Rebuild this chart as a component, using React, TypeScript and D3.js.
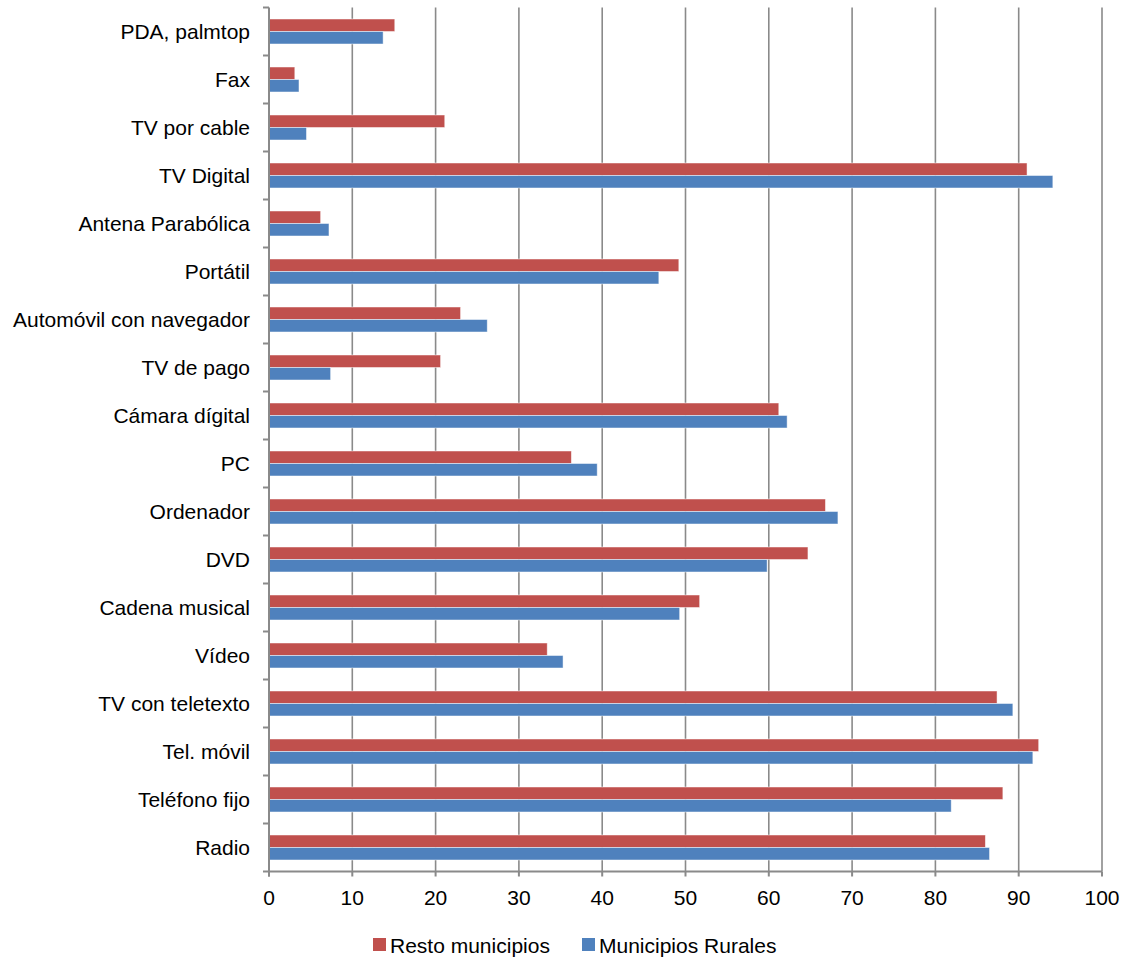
import React, { useEffect } from "react";
import * as d3 from "d3";

// categories listed top to bottom
const categories = [
  "PDA, palmtop",
  "Fax",
  "TV por cable",
  "TV Digital",
  "Antena Parabólica",
  "Portátil",
  "Automóvil con navegador",
  "TV de pago",
  "Cámara dígital",
  "PC",
  "Ordenador",
  "DVD",
  "Cadena musical",
  "Vídeo",
  "TV con teletexto",
  "Tel. móvil",
  "Teléfono fijo",
  "Radio",
];

const resto = [15.1, 3.1, 21.1, 91.0, 6.2, 49.2, 23.0, 20.6, 61.2, 36.3, 66.8, 64.7, 51.7, 33.4, 87.4, 92.4, 88.1, 86.0];
const rurales = [13.7, 3.6, 4.5, 94.1, 7.2, 46.8, 26.2, 7.4, 62.2, 39.4, 68.3, 59.8, 49.3, 35.3, 89.3, 91.7, 81.9, 86.5];

const seriesNames = ["Resto municipios", "Municipios Rurales"];
const seriesColors = ["#C0504D", "#4F81BD"];
const xTicks = [0, 10, 20, 30, 40, 50, 60, 70, 80, 90, 100];

const W = 1133;
const H = 958;
const margin = { top: 7.5, right: 31, bottom: 86.5, left: 269 };
const font = "'Liberation Sans', Arial, sans-serif";
const fs = 21;

export default function App() {
  useEffect(() => {
    document.body.style.margin = "0";
  }, []);

  const x = d3.scaleLinear().domain([0, 100]).range([margin.left, W - margin.right]);
  const y = d3
    .scaleBand<string>()
    .domain(categories)
    .range([margin.top, H - margin.bottom])
    .paddingInner(0)
    .paddingOuter(0);
  const inner = d3
    .scaleBand<number>()
    .domain([0, 1])
    .range([0, y.bandwidth()])
    .paddingOuter(0.92)
    .paddingInner(0);

  const series = [resto, rurales];
  const y0 = margin.top;
  const y1 = H - margin.bottom;
  const gridColor = "#8a8a8a";

  return (
    <svg width={W} height={H} style={{ display: "block", fontFamily: font }}>
      {/* vertical gridlines */}
      {xTicks.slice(1).map((t) => (
        <line key={"g" + t} x1={x(t)} x2={x(t)} y1={y0} y2={y1} stroke={gridColor} strokeWidth={1.6} />
      ))}

      {/* bars */}
      {categories.map((c, i) => (
        <g key={c} transform={`translate(0,${y(c)})`}>
          {series.map((s, k) => (
            <rect
              key={k}
              x={x(0)}
              y={inner(k)}
              width={x(s[i]) - x(0)}
              height={inner.bandwidth()}
              fill={seriesColors[k]}
              stroke="#ffffff"
              strokeOpacity={0.6}
              strokeWidth={0.8}
            />
          ))}
        </g>
      ))}

      {/* y axis */}
      <line x1={x(0)} x2={x(0)} y1={y0} y2={y1 + 5} stroke={gridColor} strokeWidth={2} />
      {categories.map((c) => (
        <line key={"yt" + c} x1={x(0) - 6} x2={x(0)} y1={y(c)} y2={y(c)} stroke={gridColor} strokeWidth={2} />
      ))}
      <line x1={x(0) - 6} x2={x(0)} y1={y1} y2={y1} stroke={gridColor} strokeWidth={2} />
      {categories.map((c) => (
        <text
          key={"yl" + c}
          x={x(0) - 19}
          y={(y(c) as number) + y.bandwidth() / 2}
          textAnchor="end"
          dominantBaseline="central"
          fontSize={fs}
          fill="#000"
        >
          {c}
        </text>
      ))}

      {/* x axis */}
      <line x1={x(0)} x2={x(100)} y1={y1} y2={y1} stroke={gridColor} strokeWidth={2} />
      {xTicks.map((t) => (
        <g key={"xt" + t}>
          <line x1={x(t)} x2={x(t)} y1={y1} y2={y1 + 5} stroke={gridColor} strokeWidth={2} />
          <text x={x(t)} y={y1 + 26} textAnchor="middle" dominantBaseline="central" fontSize={fs} fill="#000">
            {t}
          </text>
        </g>
      ))}

      {/* legend */}
      {seriesNames.map((n, k) => {
        const lx = k === 0 ? 373 : 582;
        return (
          <g key={n}>
            <rect x={lx} y={938} width={13} height={13} fill={seriesColors[k]} />
            <text x={lx + 17} y={945} dominantBaseline="central" fontSize={fs} fill="#000">
              {n}
            </text>
          </g>
        );
      })}
    </svg>
  );
}
